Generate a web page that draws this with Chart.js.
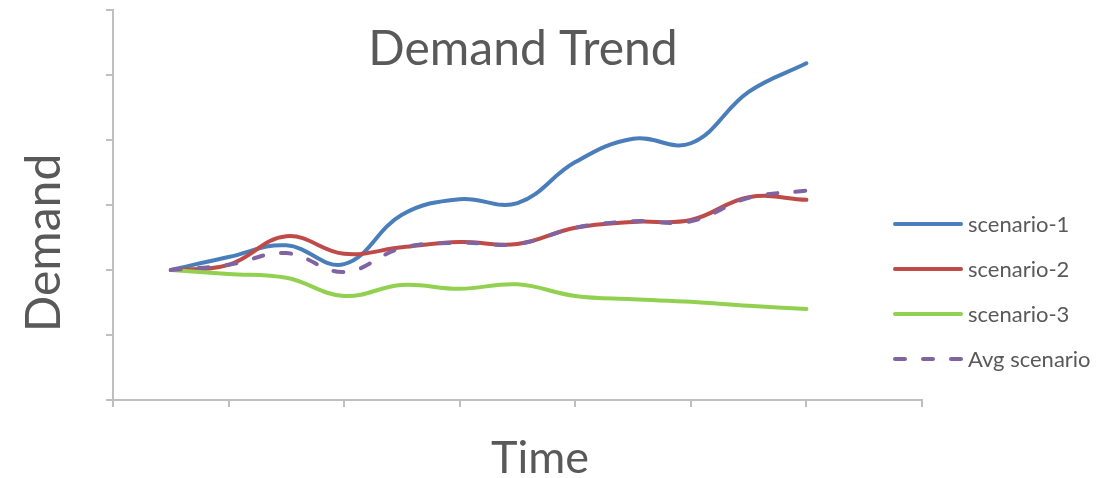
<!DOCTYPE html>
<html>
<head>
<meta charset="utf-8">
<title>Demand Trend</title>
<script src="https://cdn.jsdelivr.net/npm/chart.js@4.4.1/dist/chart.umd.min.js"></script>
<style>
  html, body { margin: 0; padding: 0; background: #ffffff; }
  canvas { display: block; }
</style>
</head>
<body>
<canvas id="chart" width="1115" height="478"></canvas>
<script>
// Time periods along the horizontal axis
const periods = [1, 2, 3, 4, 5, 6, 7, 8, 9, 10, 11, 12];

// Demand per scenario for each period
const scenario1 = [20, 22.0, 23.8, 20.9, 28.5, 30.9, 30.3, 36.6, 40.2, 39.5, 47.4, 51.8];
const scenario2 = [20, 20.8, 25.2, 22.5, 23.5, 24.3, 24.0, 26.5, 27.4, 27.7, 31.2, 30.8];
const scenario3 = [20, 19.4, 18.8, 16.0, 17.7, 17.1, 17.8, 16.0, 15.5, 15.1, 14.5, 14.0];
const avgScenario = [20, 20.8, 22.6, 19.7, 23.4, 24.2, 24.0, 26.5, 27.5, 27.5, 31.1, 32.2];

const seriesNames = ['scenario-1', 'scenario-2', 'scenario-3', 'Avg scenario'];

const titleText = 'Demand Trend';
const xTitleText = 'Time';
const yTitleText = 'Demand';

const TEXT_COLOR = '#595959';
const AXIS_COLOR = '#BFBFBF';
const FONT = 'Lato, "Open Sans", sans-serif';

function toPoints(values) {
  return periods.map((p, i) => ({ x: p, y: values[i] }));
}

function lineDataset(label, values, color, dash, order) {
  return {
    label: label,
    data: toPoints(values),
    borderColor: color,
    backgroundColor: color,
    borderWidth: 4,
    borderDash: dash,
    borderCapStyle: 'round',
    borderJoinStyle: 'round',
    pointRadius: 0,
    pointHoverRadius: 0,
    tension: 0.4,
    fill: false,
    order: order
  };
}

// Title, axis titles and the legend are painted on the canvas after the chart
const annotations = {
  id: 'annotations',
  afterDraw(chart) {
    const ctx = chart.ctx;
    ctx.save();
    ctx.fillStyle = TEXT_COLOR;
    ctx.textBaseline = 'alphabetic';

    // chart title
    ctx.font = '48px ' + FONT;
    ctx.textAlign = 'center';
    ctx.fillText(titleText, 523, 65);

    // x axis title
    ctx.font = '45px ' + FONT;
    ctx.fillText(xTitleText, 540, 473);

    // y axis title (reads bottom to top)
    ctx.save();
    ctx.translate(60, 243);
    ctx.rotate(-Math.PI / 2);
    ctx.font = '48px ' + FONT;
    ctx.fillText(yTitleText, 0, 0);
    ctx.restore();

    // legend
    ctx.font = '22px ' + FONT;
    ctx.textAlign = 'left';
    const legendOrder = [0, 1, 2, 3];
    legendOrder.forEach((di, row) => {
      const ds = chart.data.datasets[di];
      const y = 224 + row * 45;
      ctx.save();
      ctx.strokeStyle = ds.borderColor;
      ctx.lineWidth = ds.borderWidth;
      ctx.lineCap = 'round';
      ctx.setLineDash(ds.borderDash || []);
      ctx.beginPath();
      ctx.moveTo(895, y);
      ctx.lineTo(961, y);
      ctx.stroke();
      ctx.restore();
      ctx.fillText(ds.label, 968, y + 8);
    });
    ctx.restore();
  }
};

new Chart(document.getElementById('chart'), {
  type: 'line',
  data: {
    datasets: [
      lineDataset(seriesNames[0], scenario1, '#4A7EBB', [], 3),
      lineDataset(seriesNames[1], scenario2, '#BE4B48', [], 2),
      lineDataset(seriesNames[2], scenario3, '#92D050', [], 1),
      lineDataset(seriesNames[3], avgScenario, '#8064A2', [10, 18], 0)
    ]
  },
  options: {
    responsive: false,
    devicePixelRatio: 1,
    animation: false,
    events: [],
    layout: {
      padding: { left: 106, top: 10, right: 193, bottom: 71 }
    },
    plugins: {
      legend: { display: false },
      title: { display: false },
      tooltip: { enabled: false }
    },
    scales: {
      x: {
        type: 'linear',
        min: 0,
        max: 14,
        ticks: { display: false, stepSize: 2 },
        grid: {
          display: true,
          drawOnChartArea: false,
          drawTicks: true,
          tickLength: 7,
          color: AXIS_COLOR,
          lineWidth: 2
        },
        border: { display: true, color: AXIS_COLOR, width: 2 },
        afterFit(scale) { scale.height = 7; }
      },
      y: {
        type: 'linear',
        min: 0,
        max: 60,
        ticks: { display: false, stepSize: 10 },
        grid: {
          display: true,
          drawOnChartArea: false,
          drawTicks: true,
          tickLength: 7,
          color: AXIS_COLOR,
          lineWidth: 2
        },
        border: { display: true, color: AXIS_COLOR, width: 2 },
        afterFit(scale) { scale.width = 7; }
      }
    }
  },
  plugins: [annotations]
});
</script>
</body>
</html>
